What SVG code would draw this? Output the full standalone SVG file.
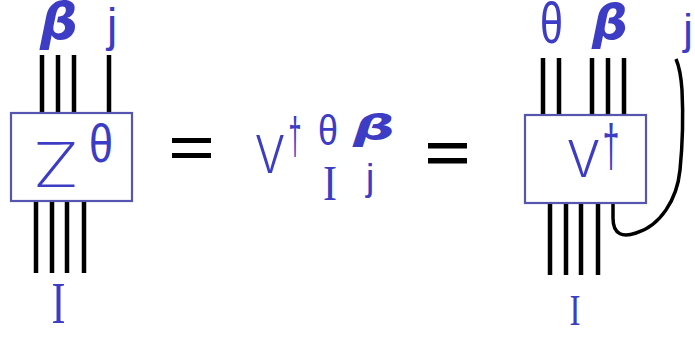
<svg xmlns="http://www.w3.org/2000/svg" width="695" height="337" viewBox="0 0 695 337">
<style>
.t{fill:#3c3cc4;font-family:"Liberation Sans","DejaVu Sans",sans-serif}
.l{fill:#3c3cc4;font-family:Inter,"Liberation Sans",sans-serif;font-weight:200}
.m{fill:#3c3cc4;font-family:Inter,"Liberation Sans",sans-serif;font-weight:300}
.s{fill:#3c3cc4;font-family:"Liberation Serif","DejaVu Serif",serif}
.b{fill:#3c3cc4;font-family:"DejaVu Sans",sans-serif;font-style:italic;font-weight:bold}
.box{fill:#fff;stroke:#5656b0;stroke-width:2.2}
.w{stroke:#000;stroke-width:4.5;fill:none}
.eq{fill:#000}
</style>
<rect width="695" height="337" fill="#fff"/>
<g id="connectors">
<path class="w" d="M42,55V113M58,55V113M74,55V113M109,55V113"/>
<path class="w" d="M36,201V273M52,201V273M67,201V273M84,201V273"/>
<path class="w" d="M543,58V115M559,58V115M592,58V115M608,58V115M624,58V115"/>
<path class="w" d="M550,203V275M566,203V275M581,203V275M598,203V275"/>
<path class="w" style="stroke-width:3.5" d="M613,203 L613,218 C613,236 624,237 636,233 C660,226 677,200 680,170 C683,140 683,110 682,90 C681,75 679,66 676,59"/>
</g>
<g id="node-Z">
<rect class="box" x="11" y="113" width="121" height="88"/>
<text class="l" x="32" y="187" font-size="62" textLength="48" lengthAdjust="spacingAndGlyphs">Z</text>
<text class="t" x="101" y="162" font-size="53" text-anchor="middle" textLength="24" lengthAdjust="spacingAndGlyphs">θ</text>
<text class="b" x="40" y="39" font-size="52" textLength="38" lengthAdjust="spacingAndGlyphs">β</text>
<text class="t" x="112" y="41" font-size="46" text-anchor="middle">j</text>
<text class="s" x="58.5" y="323" font-size="60" text-anchor="middle" textLength="14" lengthAdjust="spacingAndGlyphs">I</text>
</g>
<g id="eq1">
<rect class="eq" x="172" y="138" width="39" height="5"/>
<rect class="eq" x="172" y="153" width="39" height="5"/>
</g>
<g id="node-Vexpr">
<text class="m" x="255" y="173" font-size="52" textLength="30" lengthAdjust="spacingAndGlyphs">V</text>
<text class="t" x="295" y="154" font-size="52" text-anchor="middle" textLength="13" lengthAdjust="spacingAndGlyphs">†</text>
<text class="t" x="328" y="145" font-size="42" text-anchor="middle" textLength="20" lengthAdjust="spacingAndGlyphs">θ</text>
<text class="b" x="353" y="140" font-size="36" textLength="42" lengthAdjust="spacingAndGlyphs">β</text>
<text class="s" x="330" y="200" font-size="50" text-anchor="middle" textLength="14" lengthAdjust="spacingAndGlyphs">I</text>
<text class="t" x="370" y="190" font-size="37" text-anchor="middle">j</text>
</g>
<g id="eq2">
<rect class="eq" x="428" y="143" width="39" height="5.5"/>
<rect class="eq" x="428" y="158" width="39" height="5.5"/>
</g>
<g id="node-V">
<rect class="box" x="525" y="115" width="121" height="88"/>
<text class="m" x="567" y="177" font-size="51" textLength="33" lengthAdjust="spacingAndGlyphs">V</text>
<text class="t" x="611" y="166" font-size="60" text-anchor="middle" textLength="17" lengthAdjust="spacingAndGlyphs">†</text>
<text class="t" x="551.5" y="43" font-size="58" text-anchor="middle" textLength="23" lengthAdjust="spacingAndGlyphs">θ</text>
<text class="b" x="592" y="39" font-size="48" textLength="36" lengthAdjust="spacingAndGlyphs">β</text>
<text class="t" x="688" y="44" font-size="43" text-anchor="middle">j</text>
<text class="s" x="575" y="325" font-size="45" text-anchor="middle" textLength="11" lengthAdjust="spacingAndGlyphs">I</text>
</g>
</svg>
